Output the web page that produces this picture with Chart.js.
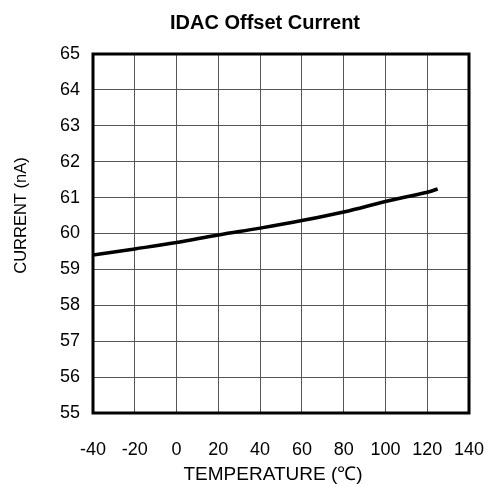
<!DOCTYPE html>
<html>
<head>
<meta charset="utf-8">
<script src="https://cdn.jsdelivr.net/npm/chart.js@4.4.0/dist/chart.umd.min.js"></script>
<style>
  html, body { margin: 0; padding: 0; background: #fff; }
  #wrap { width: 487px; height: 484px; }
</style>
</head>
<body>
<div id="wrap"><canvas id="grafico"></canvas></div>
<script>
// Datos
const temperaturas = [-40, -20, 0, 20, 40, 60, 80, 100, 120, 125];
const corriente = [59.40, 59.57, 59.75, 59.96, 60.15, 60.36, 60.60, 60.89, 61.15, 61.24];
const ticksX = [-40, -20, 0, 20, 40, 60, 80, 100, 120, 140];
const ticksY = [55, 56, 57, 58, 59, 60, 61, 62, 63, 64, 65];

const titulo = 'IDAC Offset Current';
const tituloX = 'TEMPERATURE (\u2103)';
const tituloY = 'CURRENT (nA)';

const fuente = "'Liberation Sans', Arial, sans-serif";

// Marco grueso alrededor del área de la gráfica
const marco = {
    id: 'marco',
    beforeDatasetsDraw(chart) {
        const { ctx, chartArea: a } = chart;
        ctx.save();
        ctx.strokeStyle = '#000';
        ctx.lineWidth = 3;
        ctx.strokeRect(a.left, a.top, a.right - a.left, a.bottom - a.top);
        ctx.restore();
    }
};

// Títulos colocados a mano (el original no está centrado en el área)
const titulos = {
    id: 'titulos',
    afterDraw(chart) {
        const ctx = chart.ctx;
        ctx.save();
        ctx.fillStyle = '#000';
        ctx.textAlign = 'center';
        ctx.textBaseline = 'alphabetic';

        ctx.font = 'bold 20px ' + fuente;
        ctx.fillText(titulo, 265, 29);

        ctx.font = '19px ' + fuente;
        ctx.fillText(tituloX, 273, 480);

        ctx.translate(26, 215.5);
        ctx.rotate(-Math.PI / 2);
        ctx.font = '16.5px ' + fuente;
        ctx.fillText(tituloY, 0, 0);
        ctx.restore();
    }
};

const ctx = document.getElementById('grafico').getContext('2d');
const chart = new Chart(ctx, {
    type: 'line',
    data: {
        datasets: [{
            data: temperaturas.map((t, i) => ({ x: t, y: corriente[i] })),
            borderColor: '#000',
            borderWidth: 3.5,
            pointRadius: 0,
            tension: 0.4,
            fill: false
        }]
    },
    options: {
        responsive: true,
        maintainAspectRatio: false,
        animation: false,
        layout: { padding: { left: 0, right: 18, top: 54, bottom: 0 } },
        plugins: {
            legend: { display: false },
            tooltip: { enabled: false },
            title: { display: false }
        },
        scales: {
            x: {
                type: 'linear',
                min: -40,
                max: 140,
                afterBuildTicks: s => { s.ticks = ticksX.map(v => ({ value: v })); },
                afterFit: s => { s.height = 71; s.paddingLeft = 0; s.paddingRight = 0; },
                grid: { color: '#555', lineWidth: 1, drawTicks: false },
                border: { display: false },
                ticks: { color: '#000', padding: 26, font: { family: fuente, size: 18 } }
            },
            y: {
                min: 55,
                max: 65,
                afterBuildTicks: s => { s.ticks = ticksY.map(v => ({ value: v })); },
                afterFit: s => { s.width = 93; s.paddingTop = 0; s.paddingBottom = 0; },
                grid: { color: '#555', lineWidth: 1, drawTicks: false },
                border: { display: false },
                ticks: { color: '#000', padding: 13, font: { family: fuente, size: 18 } }
            }
        }
    },
    plugins: [marco, titulos]
});
</script>
</body>
</html>
